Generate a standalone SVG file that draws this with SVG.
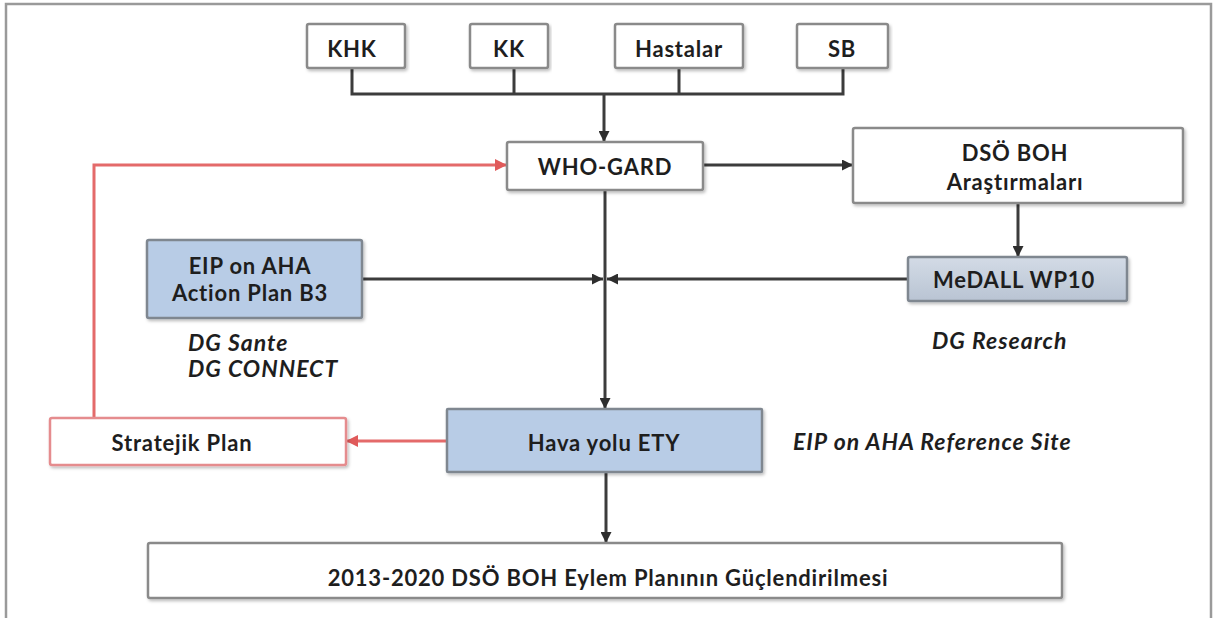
<svg xmlns="http://www.w3.org/2000/svg" width="1220" height="618" viewBox="0 0 1220 618">
<style>
.t{font-family:Lato,"Open Sans","Liberation Sans",sans-serif;font-weight:bold;font-size:22px;letter-spacing:0.8px;fill:#1e1e1e;text-anchor:middle;dominant-baseline:central}
.it{font-family:Lato,"Open Sans","Liberation Sans",sans-serif;font-weight:bold;font-style:italic;font-size:23px;letter-spacing:1px;fill:#1e1e1e;dominant-baseline:central}
.box{fill:#fff;stroke:#8a8a8a;stroke-width:2.5;filter:url(#sh)}
.blue{fill:#b8cce6;stroke:#7f8790;stroke-width:2.5;filter:url(#sh)}
.gb{fill:url(#gg);stroke:#7f8790;stroke-width:2.5;filter:url(#sh)}
.red{fill:#fff;stroke:#e58c8e;stroke-width:2.5;filter:url(#sh)}
.c{fill:none;stroke:#3c3c3c;stroke-width:3}
.cr{fill:none;stroke:#e46a6a;stroke-width:3}
</style>
<defs>
<filter id="sh" x="-5%" y="-10%" width="110%" height="130%">
<feDropShadow dx="1.5" dy="2" stdDeviation="1.5" flood-color="#000" flood-opacity="0.25"/>
</filter>
<linearGradient id="gg" x1="0" y1="0" x2="0" y2="1">
<stop offset="0" stop-color="#d3dbe6"/>
<stop offset="1" stop-color="#b9c4d3"/>
</linearGradient>
<marker id="ah" viewBox="0 0 10 10" refX="10" refY="5" markerWidth="11" markerHeight="11" markerUnits="userSpaceOnUse" orient="auto">
<path d="M0,0 L10,5 L0,10 z" fill="#2e2e2e"/>
</marker>
<marker id="ahr" viewBox="0 0 10 10" refX="10" refY="5" markerWidth="12" markerHeight="12" markerUnits="userSpaceOnUse" orient="auto">
<path d="M0,0 L10,5 L0,10 z" fill="#e05a5a"/>
</marker>
</defs>
<rect width="1220" height="618" fill="#fff"/>
<path d="M6,625 V4 H1211 V625" fill="none" stroke="#9a9a9a" stroke-width="2.5"/>

<g id="connectors">
<path class="c" d="M352,68 V94 H843 V68 M514,68 V94 M679,68 V94"/>
<path class="c" d="M604,94 V142" marker-end="url(#ah)"/>
<path class="c" d="M703,165 H853" marker-end="url(#ah)"/>
<path class="c" d="M1018,203 V257" marker-end="url(#ah)"/>
<path class="c" d="M605,190 V409" marker-end="url(#ah)"/>
<path class="c" d="M362,279 H603" marker-end="url(#ah)"/>
<path class="c" d="M908,279 H607" marker-end="url(#ah)"/>
<path class="c" d="M606,472 V543" marker-end="url(#ah)"/>
<path class="cr" d="M447,441 H346" marker-end="url(#ahr)"/>
<path class="cr" d="M94,418 V165 H507" marker-end="url(#ahr)"/>
</g>

<g id="khk"><rect class="box" x="307" y="24" width="98" height="44" rx="2"/><text class="t" x="352" y="48">KHK</text></g>
<g id="kk"><rect class="box" x="470" y="24" width="78" height="44" rx="2"/><text class="t" x="509" y="48">KK</text></g>
<g id="hastalar"><rect class="box" x="615" y="24" width="128" height="44" rx="2"/><text class="t" x="679" y="48">Hastalar</text></g>
<g id="sb"><rect class="box" x="797" y="24" width="91" height="44" rx="2"/><text class="t" x="842" y="48">SB</text></g>

<g id="who-gard"><rect class="box" x="507" y="142" width="196" height="48" rx="2"/><text class="t" x="605" y="166">WHO-GARD</text></g>
<g id="dso-boh"><rect class="box" x="853" y="128" width="330" height="75" rx="2"/><text class="t" x="1015" y="152">DSÖ BOH</text><text class="t" x="1015" y="181">Araştırmaları</text></g>

<g id="eip"><rect class="blue" x="147" y="240" width="215" height="78" rx="2"/><text class="t" x="250" y="265">EIP on AHA</text><text class="t" x="250" y="292">Action Plan B3</text></g>
<g id="dg-sante"><text class="it" x="188" y="342">DG Sante</text><text class="it" x="188" y="368">DG CONNECT</text></g>

<g id="medall"><rect class="gb" x="908" y="257" width="219" height="44" rx="2"/><text class="t" x="1014" y="279">MeDALL WP10</text></g>
<g id="dg-research"><text class="it" x="932" y="340">DG Research</text></g>

<g id="stratejik"><rect class="red" x="50" y="418" width="296" height="47" rx="2"/><text class="t" x="182" y="442">Stratejik Plan</text></g>
<g id="hava-yolu"><rect class="blue" x="447" y="409" width="315" height="63" rx="1"/><text class="t" x="604" y="442">Hava yolu ETY</text></g>
<g id="ref-site"><text class="it" x="793" y="441">EIP on AHA Reference Site</text></g>

<g id="bottom"><rect class="box" x="148" y="543" width="914" height="55" rx="2"/><text class="t" x="608" y="577">2013-2020 DSÖ BOH Eylem Planının Güçlendirilmesi</text></g>
</svg>
